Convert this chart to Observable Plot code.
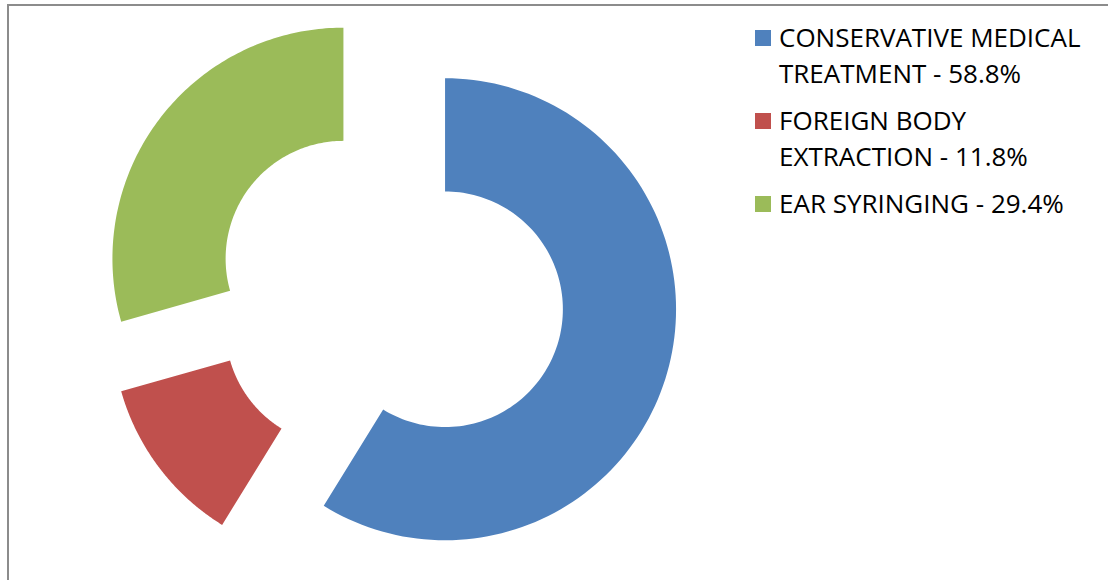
<!DOCTYPE html>
<html>
<head>
<meta charset="utf-8">
<script src="https://cdn.jsdelivr.net/npm/d3@7"></script>
<script src="https://cdn.jsdelivr.net/npm/@observablehq/plot@0.6"></script>
<style>
  html, body { margin: 0; padding: 0; background: #fff; }
  #wrap { position: relative; width: 1108px; height: 580px; overflow: hidden; background: #fff; }
  #frame { position: absolute; left: 7px; top: 4px; right: -10px; bottom: -10px;
           border-top: 2px solid #8c8c8c; border-left: 2px solid #8c8c8c; pointer-events: none; }
  #chart { position: absolute; left: 0; top: 0; }
  #legend { position: absolute; left: 755px; top: 19px; font-family: "Open Sans", sans-serif;
            font-size: 26px; color: #000; }
  .item { position: relative; padding-left: 24px; margin-bottom: 11px; line-height: 36px; white-space: nowrap; }
  .sw { position: absolute; left: 0; top: 11px; width: 16px; height: 16px; }
</style>
</head>
<body>
<div id="wrap">
  <div id="chart"></div>
  <div id="frame"></div>
  <div id="legend"></div>
</div>
<script>
const categories = ["CONSERVATIVE MEDICAL TREATMENT", "FOREIGN BODY EXTRACTION", "EAR SYRINGING"];
const values = [58.8, 11.8, 29.4];
const colors = ["#4F81BD", "#C0504D", "#9BBB59"];
const legendLines = [["CONSERVATIVE MEDICAL", "TREATMENT - 58.8%"], ["FOREIGN BODY", "EXTRACTION - 11.8%"], ["EAR SYRINGING - 29.4%"]];

const W = 1108, H = 580;
const R = 231;            // outer radius in px
const cx = 389, cy = 293; // pie centre in px
const inner = 0.51, explode = 0.25;

const pie = d3.pie().sort(null).value(d => d.value);
const arcs = pie(categories.map((c, i) => ({cat: c, value: values[i]})));

const pts = [];
for (const a of arcs) {
  const mid = (a.startAngle + a.endAngle) / 2;
  const ox = explode * Math.sin(mid), oy = -explode * Math.cos(mid);
  const n = 120;
  for (let k = 0; k <= n; k++) {
    const t = a.startAngle + (a.endAngle - a.startAngle) * k / n;
    pts.push({cat: a.data.cat, x: ox + Math.sin(t), y: oy - Math.cos(t)});
  }
  for (let k = n; k >= 0; k--) {
    const t = a.startAngle + (a.endAngle - a.startAngle) * k / n;
    pts.push({cat: a.data.cat, x: ox + inner * Math.sin(t), y: oy - inner * Math.cos(t)});
  }
}

const chart = Plot.plot({
  width: W, height: H,
  margin: 0,
  x: {domain: [-cx / R, (W - cx) / R], range: [0, W], axis: null},
  y: {domain: [-cy / R, (H - cy) / R], range: [0, H], axis: null},
  color: {domain: categories, range: colors},
  marks: [
    Plot.line(pts, {x: "x", y: "y", z: "cat", fill: "cat", stroke: null, curve: "linear-closed"})
  ]
});
document.getElementById("chart").appendChild(chart);

const legend = document.getElementById("legend");
categories.forEach((c, i) => {
  const item = document.createElement("div");
  item.className = "item";
  const sw = document.createElement("div");
  sw.className = "sw";
  sw.style.background = colors[i];
  item.appendChild(sw);
  legendLines[i].forEach(l => {
    const d = document.createElement("div");
    d.textContent = l;
    item.appendChild(d);
  });
  legend.appendChild(item);
});
</script>
</body>
</html>
